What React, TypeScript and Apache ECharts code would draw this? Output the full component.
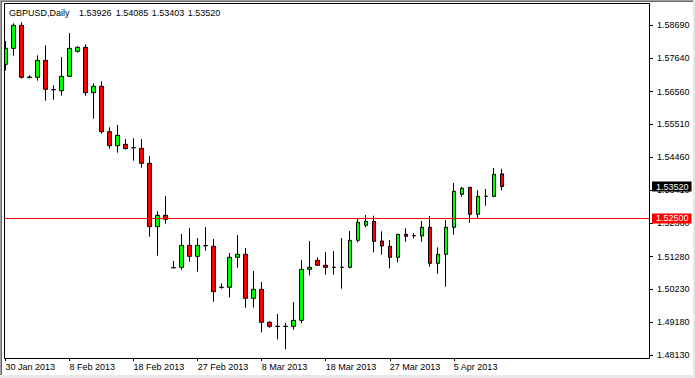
import React, { useEffect, useRef } from "react";
import * as echarts from "echarts";

const categories = [
  "30 Jan 2013", "31 Jan 2013", "1 Feb 2013", "3 Feb 2013", "4 Feb 2013", "5 Feb 2013", "6 Feb 2013", "7 Feb 2013",
  "8 Feb 2013", "10 Feb 2013", "11 Feb 2013", "12 Feb 2013", "13 Feb 2013", "14 Feb 2013", "15 Feb 2013", "17 Feb 2013",
  "18 Feb 2013", "19 Feb 2013", "20 Feb 2013", "21 Feb 2013", "22 Feb 2013", "24 Feb 2013", "25 Feb 2013", "26 Feb 2013",
  "27 Feb 2013", "28 Feb 2013", "1 Mar 2013", "3 Mar 2013", "4 Mar 2013", "5 Mar 2013", "6 Mar 2013", "7 Mar 2013",
  "8 Mar 2013", "10 Mar 2013", "11 Mar 2013", "12 Mar 2013", "13 Mar 2013", "14 Mar 2013", "15 Mar 2013", "17 Mar 2013",
  "18 Mar 2013", "19 Mar 2013", "20 Mar 2013", "21 Mar 2013", "22 Mar 2013", "24 Mar 2013", "25 Mar 2013", "26 Mar 2013",
  "27 Mar 2013", "28 Mar 2013", "29 Mar 2013", "31 Mar 2013", "1 Apr 2013", "2 Apr 2013", "3 Apr 2013", "4 Apr 2013",
  "5 Apr 2013", "7 Apr 2013", "8 Apr 2013", "9 Apr 2013", "10 Apr 2013", "11 Apr 2013", "12 Apr 2013",
];

const opens = [
  1.57432, 1.57944, 1.5868, 1.57026, 1.57016, 1.5756, 1.56625, 1.56588,
  1.57048, 1.57848, 1.57976, 1.56524, 1.56728, 1.55276, 1.54828, 1.54872,
  1.54768, 1.54744, 1.54264, 1.52236, 1.526, 1.50928, 1.50936, 1.5164,
  1.51288, 1.51632, 1.51608, 1.503, 1.50296, 1.51256, 1.51352, 1.49944,
  1.50232, 1.49176, 1.49052, 1.49044, 1.49048, 1.4924, 1.50872, 1.5116,
  1.51, 1.5094, 1.50932, 1.50936, 1.518, 1.5228, 1.52408, 1.51778,
  1.51608, 1.51256, 1.51992, 1.51944, 1.51938, 1.52216, 1.51064, 1.51352,
  1.52216, 1.53272, 1.53496, 1.52632, 1.53204, 1.53208, 1.53926,
];
const closes = [
  1.57944, 1.5868, 1.57016, 1.57007, 1.5756, 1.56632, 1.56615, 1.57048,
  1.57944, 1.57976, 1.56524, 1.56728, 1.55276, 1.54828, 1.5516, 1.54738,
  1.5476, 1.54264, 1.52236, 1.526, 1.52472, 1.5092, 1.5164, 1.51288,
  1.5164, 1.51624, 1.50156, 1.50292, 1.51256, 1.51352, 1.49944, 1.50232,
  1.49176, 1.49048, 1.49044, 1.4905, 1.4924, 1.50872, 1.50936, 1.51,
  1.50936, 1.50932, 1.5094, 1.518, 1.52376, 1.52408, 1.51768, 1.51618,
  1.51256, 1.51992, 1.51928, 1.51952, 1.52216, 1.51064, 1.51352, 1.52216,
  1.53368, 1.53464, 1.52632, 1.53208, 1.53212, 1.53912, 1.5352,
];
const lows = [
  1.57234, 1.57708, 1.56972, 1.56984, 1.56908, 1.56268, 1.563, 1.56428,
  1.5704, 1.57804, 1.56428, 1.55692, 1.55212, 1.54732, 1.54604, 1.547,
  1.54348, 1.54124, 1.51916, 1.51308, 1.52332, 1.50904, 1.5086, 1.51116,
  1.50796, 1.51468, 1.49836, 1.50252, 1.49976, 1.50924, 1.49644, 1.4965,
  1.48856, 1.49004, 1.48632, 1.48312, 1.4894, 1.49144, 1.5068, 1.50994,
  1.507, 1.507, 1.50252, 1.50904, 1.51736, 1.52216, 1.51416, 1.5134,
  1.50904, 1.51096, 1.51756, 1.51864, 1.51756, 1.50956, 1.50732, 1.50316,
  1.5198, 1.53196, 1.52364, 1.52492, 1.52908, 1.53176, 1.53403,
];
const highs = [
  1.58178, 1.58744, 1.58776, 1.5708, 1.5772, 1.5804, 1.5676, 1.57666,
  1.58434, 1.58008, 1.58072, 1.56824, 1.56888, 1.55416, 1.5549, 1.55042,
  1.55064, 1.55042, 1.54498, 1.52738, 1.53218, 1.51138, 1.52002, 1.52194,
  1.51874, 1.52226, 1.51842, 1.50424, 1.51394, 1.5197, 1.51554, 1.50818,
  1.50466, 1.49208, 1.49442, 1.49164, 1.49826, 1.5117, 1.51778, 1.51256,
  1.51426, 1.51458, 1.51874, 1.52098, 1.52482, 1.5261, 1.52588, 1.52088,
  1.5181, 1.51992, 1.52184, 1.52024, 1.52418, 1.52578, 1.51576, 1.5245,
  1.53634, 1.53506, 1.53496, 1.534, 1.53442, 1.54114, 1.54085,
];

const yTickValues = [1.5869, 1.5764, 1.5656, 1.5551, 1.5446, 1.5341, 1.5236, 1.5128, 1.5023, 1.4918, 1.4813];
const levelLine = 1.525;
const lastPrice = 1.5352;
const headerSymbol = "GBPUSD,Daily";
const headerValues = ["1.53926", "1.54085", "1.53403", "1.53520"];
const emptySlots = 18;

const FONT = '"Liberation Sans", Arial, sans-serif';

export default function App() {
  const ref = useRef<HTMLDivElement>(null);
  useEffect(() => {
    if (!ref.current) return;
    const chart = echarts.init(ref.current, null, { renderer: "svg" });
    const axisData = [...categories, ...Array(emptySlots).fill("")];
    const candleData = categories.map((_, i) => [opens[i], closes[i], lows[i], highs[i]]);
    const showAt = (i: number, v: string) => v !== "" && i % 8 === 0;
    const headerX = [79, 115.7, 151.7, 187.7];
    const priceLabel = (bg: string) => ({
      show: true,
      position: "end",
      distance: 2,
      color: "#ffffff",
      opacity: 1,
      backgroundColor: bg,
      padding: [1, 3, 0, 4],
      lineHeight: 9,
      fontSize: 9,
      fontFamily: FONT,
    });
    const option: any = {
      animation: false,
      backgroundColor: "#ffffff",
      grid: { left: 1.5, top: 4, width: 648.5, height: 354, containLabel: false },
      xAxis: {
        type: "category",
        data: axisData,
        boundaryGap: true,
        axisLine: { show: false },
        axisTick: { show: true, alignWithLabel: true, length: 3, interval: showAt, lineStyle: { color: "#000", width: 1 } },
        axisLabel: { interval: showAt, align: "left", margin: 4, fontSize: 9, fontFamily: FONT, color: "#000" },
        splitLine: { show: false },
      },
      yAxis: {
        type: "value",
        position: "right",
        min: 1.48034,
        max: 1.59362,
        scale: true,
        axisLine: { show: false },
        splitLine: { show: false },
        axisTick: { show: true, length: 3, customValues: yTickValues, lineStyle: { color: "#000", width: 1 } },
        axisLabel: {
          customValues: yTickValues,
          formatter: (v: number) => v.toFixed(5),
          margin: 7,
          fontSize: 9,
          fontFamily: FONT,
          color: "#000",
        },
      },
      series: [
        {
          type: "candlestick",
          data: candleData,
          barWidth: 4,
          clip: true,
          itemStyle: {
            color: "#00ff00",
            color0: "#ff0000",
            borderColor: "#000000",
            borderColor0: "#000000",
            borderColorDoji: "#000000",
            borderWidth: 1,
          },
          markLine: {
            silent: true,
            precision: 5,
            symbol: ["none", "none"],
            animation: false,
            data: [
              {
                yAxis: levelLine,
                lineStyle: { color: "#ff0000", width: 1, type: "solid" },
                label: { ...priceLabel("#ff0000"), formatter: levelLine.toFixed(5) },
              },
              {
                yAxis: lastPrice,
                lineStyle: { color: "rgba(0,0,0,0)", width: 0 },
                label: { ...priceLabel("#000000"), formatter: lastPrice.toFixed(5) },
              },
            ],
          },
        },
      ],
      graphic: [
        { type: "rect", z: 100, shape: { x: 0, y: 0, width: 4, height: 360 }, style: { fill: "#ffffff" } },
        { type: "rect", z: 101, shape: { x: 4.5, y: 3.5, width: 645, height: 355 }, style: { fill: "none", stroke: "#000", lineWidth: 1 } },
        { type: "rect", z: 102, shape: { x: 0, y: 0, width: 695, height: 1 }, style: { fill: "#a0a0a0" } },
        { type: "rect", z: 102, shape: { x: 0, y: 1, width: 695, height: 1 }, style: { fill: "#696969" } },
        { type: "rect", z: 102, shape: { x: 0, y: 0, width: 1, height: 378 }, style: { fill: "#a0a0a0" } },
        { type: "rect", z: 102, shape: { x: 1, y: 1, width: 1, height: 377 }, style: { fill: "#696969" } },
        { type: "rect", z: 102, shape: { x: 0, y: 375, width: 695, height: 3 }, style: { fill: "#e8e8e8" } },
        { type: "rect", z: 102, shape: { x: 693, y: 0, width: 2, height: 378 }, style: { fill: "#e8e8e8" } },
        {
          type: "text", z: 103, x: 9, y: 13,
          style: { text: headerSymbol, fill: "#000", fontSize: 9, fontFamily: FONT, verticalAlign: "middle", align: "left" },
        },
        ...headerValues.map((t, i) => ({
          type: "text", z: 103, x: headerX[i], y: 13,
          style: { text: t, fill: "#000", fontSize: 9, fontFamily: FONT, verticalAlign: "middle", align: "left" },
        })),
      ],
    };
    chart.setOption(option);
    return () => chart.dispose();
  }, []);
  return (
    <div
      ref={ref}
      style={{ position: "fixed", left: 0, top: 0, width: 695, height: 378, background: "#fff" }}
    />
  );
}
